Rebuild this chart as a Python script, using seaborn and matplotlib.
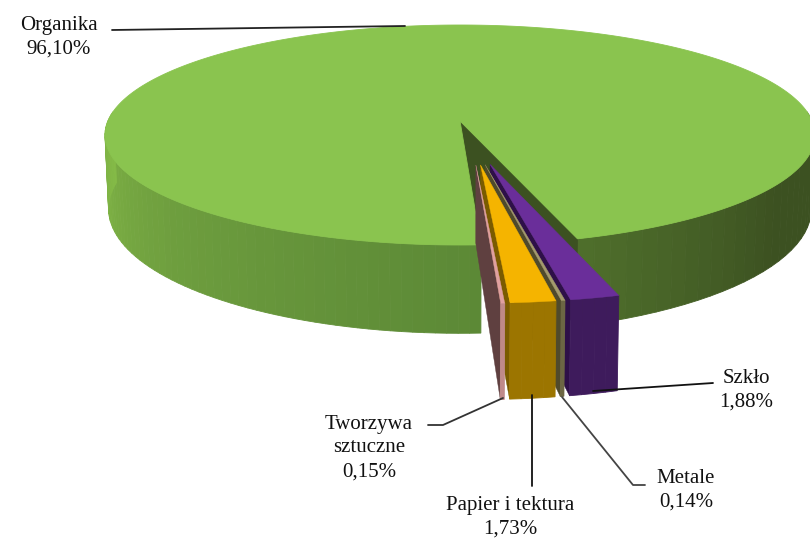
import numpy as np
import matplotlib
matplotlib.use("Agg")
import matplotlib.pyplot as plt
import seaborn as sns

# dane z wykresu
names = ["Organika", "Szkło", "Metale", "Papier i\u00a0tektura", "Tworzywa\nsztuczne"]
shares = [96.10, 1.88, 0.14, 1.73, 0.15]

top_colors = ["#8ac44f", "#6a2e9a", "#a39a6c", "#f5b400", "#e0a0a0"]
side_colors = [None, "#3e1b5c", "#6d6744", "#9c7500", "#c08a8a"]
cut_colors = [None, "#2e1048", "#4f4a2c", "#7a5b00", "#5f4040"]
green_left = ["#5c8936", "#6d9d3e", "#84ba47"]
green_right = ["#4e6e2b", "#3c5121", "#3c5121"]
green_cut = "#3c5121"

label_xy = [(59, 37), (746, 390), (686, 490), (510, 517), (369, 448)]
leaders = [
    [(112, 30), (405, 26)],
    [(713, 383), (593, 391)],
    [(645, 485), (633, 485), (562, 397)],
    [(532, 486), (532, 395)],
    [(428, 425), (443, 425), (503, 398)],
]
leader_colors = ["#222222", "#111111", "#444444", "#111111", "#333333"]

# kamera: koło jednostkowe -> elipsa w pikselach (z perspektywą)
cx, cy, rx, ry = 460, 135, 355, 110
v0 = -14 / 110
depth = 72
first_angle = 3.0
explode = 0.39
explode_pull = 0.55


def project(x, y, z=0.0):
    den = 1 + v0 * y
    u = x * np.sqrt(1 - v0 ** 2) / den
    v = (y + v0) / den
    return cx + rx * u * (1 - 0.01 * z), cy + ry * v + depth * z / den ** 1.5


def rim(phi, ox=0.0, oy=0.0, z=0.0):
    r = np.radians(phi)
    return project(ox + np.sin(r), oy + np.cos(r), z)


sns.set_theme(style="white")
plt.rcParams["font.family"] = ["Liberation Serif", "DejaVu Serif"]

fig = plt.figure(figsize=(8.1, 5.46), dpi=100)
ax = fig.add_axes([0, 0, 1, 1])
ax.set_xlim(0, 810)
ax.set_ylim(546, 0)
ax.axis("off")

sweeps = np.array(shares) / sum(shares) * 360
ends = first_angle - np.cumsum(sweeps)
starts = ends + sweeps
gap_mid = first_angle + sweeps[1:].sum() / 2


def side_band(phi0, phi1, ox, oy, colors):
    phis = np.linspace(phi0, phi1, len(colors) + 1)
    for p0, p1, c in zip(phis[:-1], phis[1:], colors):
        pts = [rim(p0, ox, oy), rim(p1, ox, oy), rim(p1, ox, oy, 1), rim(p0, ox, oy, 1)]
        ax.fill(*zip(*pts), color=c, lw=0.6)


# organika: bok, ściana cięcia, wierzch
organika_end = ends[0] + 360
side_band(organika_end, 95, 0, 0, sns.blend_palette(green_right, 30))
side_band(first_angle, -95, 0, 0, sns.blend_palette(green_left, 60))
cut = [project(0, 0), rim(organika_end), rim(organika_end, z=1), project(0, 0, 1)]
ax.fill(*zip(*cut), color=green_cut, lw=0.6)
arc = np.linspace(ends[0], first_angle, 700)
top = [project(0, 0)] + [rim(p) for p in arc]
ax.fill(*zip(*top), color=top_colors[0], lw=0.6)

# wysunięte wycinki, od prawej do lewej
for i in range(1, len(shares)):
    mid = (starts[i] + ends[i]) / 2 % 360
    d = np.radians(gap_mid + explode_pull * (mid - gap_mid))
    ox, oy = explode * np.sin(d), explode * np.cos(d)
    lo, hi = ends[i] % 360, starts[i] % 360
    face = [project(ox, oy), rim(lo, ox, oy), rim(lo, ox, oy, 1), project(ox, oy, 1)]
    ax.fill(*zip(*face), color=cut_colors[i], lw=0.3)
    side_band(lo, hi, ox, oy, [side_colors[i]] * 4)
    wedge = [project(ox, oy)] + [rim(p, ox, oy) for p in np.linspace(lo, hi, 12)]
    ax.fill(*zip(*wedge), color=top_colors[i], lw=0.3)

# etykiety i linie odniesienia
for name, share, xy, line, c in zip(names, shares, label_xy, leaders, leader_colors):
    ax.plot(*zip(*line), color=c, lw=1.3)
    text = f"{name}\n{share:.2f}%".replace(".", ",")
    ax.text(*xy, text, ha="center", va="center", fontsize=15, color="#111111", linespacing=1.35)

fig.savefig("out.png", dpi=100)
